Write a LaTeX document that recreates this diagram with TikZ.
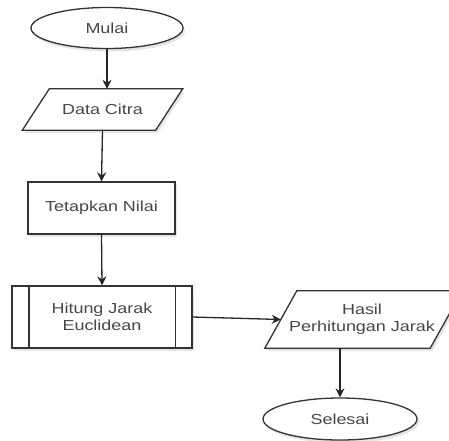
\documentclass[tikz,border=0pt]{standalone}
\usepackage{graphicx}
\usepackage{fontspec}
\setmainfont{Liberation Sans}
\usetikzlibrary{shapes.geometric,arrows.meta}
\newcommand\wtxt[1]{\scalebox{1.24}[1]{#1}}
\begin{document}
\begin{tikzpicture}[x=1pt,y=-1pt,
  every node/.style={inner sep=0pt, font=\fontsize{14.5}{16.5}\selectfont, text=black!72},
  shd/.style={preaction={draw=none, fill=black!10, transform canvas={shift={(2pt,-3pt)}}}},
  box/.style={draw=black!80, line width=1.3pt, fill=white, shd},
  oval/.style={ellipse, box},
  lnk/.style={draw=black!85, line width=1.3pt, -{Stealth[length=9pt,width=9pt]}}
]
\useasboundingbox (0,0) rectangle (449,440);
\clip (0,0) rectangle (449,440);

% start
\node[oval, minimum width=152pt, minimum height=41pt] (mulai) at (107,28) {\wtxt{Mulai}};

% input data
\node[minimum width=133pt, minimum height=41pt] (data) at (102.5,109.5) {};
\draw[box] ([xshift=13.5pt]data.north west) -- ([xshift=13.5pt]data.north east)
  -- ([xshift=-13.5pt]data.south east) -- ([xshift=-13.5pt]data.south west) -- cycle;
\node at (data) {\wtxt{Data Citra}};

% process
\node[box, minimum width=147pt, minimum height=52pt] (tetap) at (101.5,208) {\wtxt{Tetapkan Nilai}};

% predefined process
\node[box, minimum width=180pt, minimum height=62pt, align=center] (hitung) at (102,317)
  {\wtxt{Hitung Jarak}\\\wtxt{Euclidean}};
\draw[draw=black!80, line width=1.3pt] ([xshift=17.5pt]hitung.north west) -- ([xshift=17.5pt]hitung.south west);
\draw[draw=black!80, line width=1.3pt] ([xshift=-17.5pt]hitung.north east) -- ([xshift=-17.5pt]hitung.south east);

% output
\node[minimum width=165pt, minimum height=57pt] (hasil) at (363.5,319.5) {};
\draw[box] ([xshift=16pt]hasil.north west) -- ([xshift=16pt]hasil.north east)
  -- ([xshift=-16pt]hasil.south east) -- ([xshift=-16pt]hasil.south west) -- cycle;
\node[align=center] at (362,319) {\wtxt{Hasil}\\\wtxt{Perhitungan Jarak}};

% end
\node[oval, minimum width=154pt, minimum height=42pt] (selesai) at (340,419) {\wtxt{Selesai}};

% connectors
\draw[lnk] (mulai.south) -- (mulai.south |- data.north);
\draw[lnk] (data.south) -- (tetap.north);
\draw[lnk] (tetap.south) -- (hitung.north);
\draw[lnk] (hitung.east) -- (hasil.west);
\draw[lnk] (selesai.north |- hasil.south) -- (selesai.north);
\end{tikzpicture}
\end{document}
